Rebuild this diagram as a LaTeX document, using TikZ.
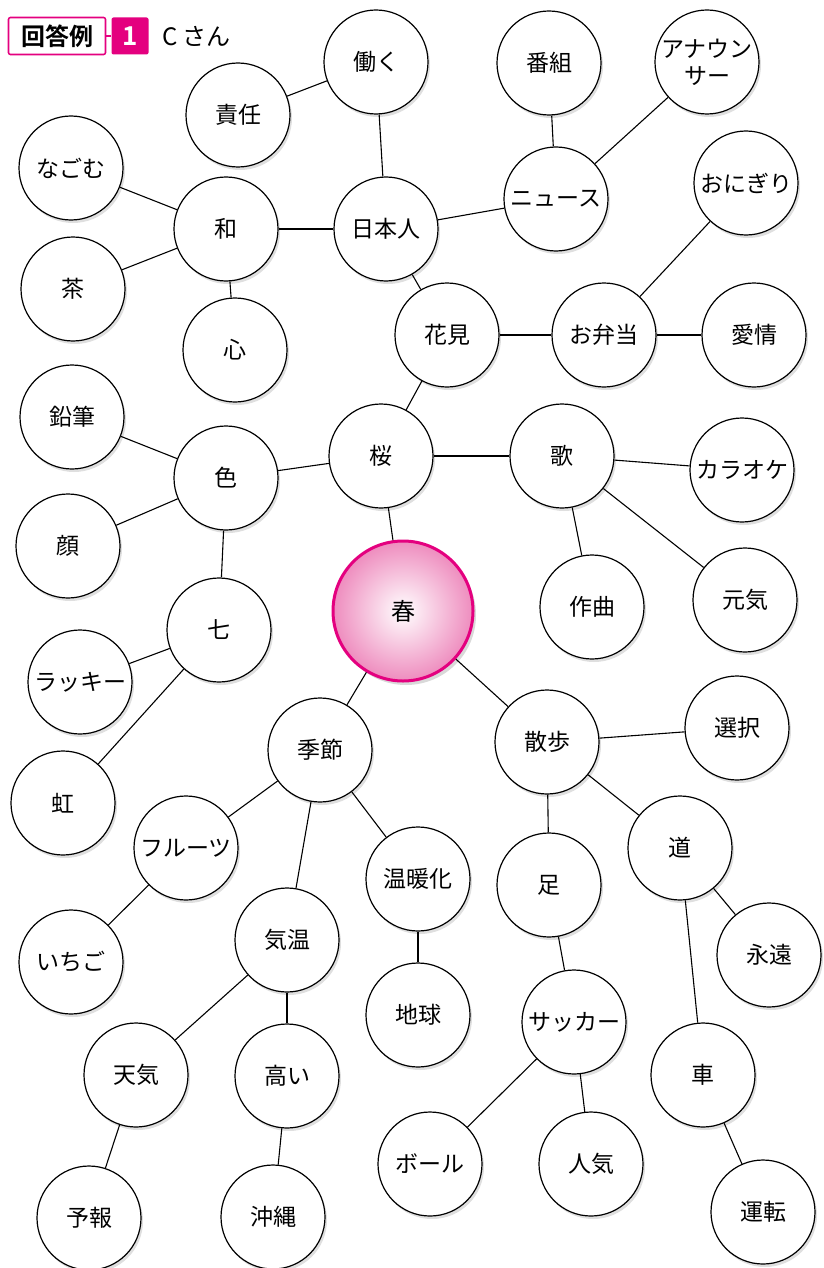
\documentclass[tikz,border=0pt]{standalone}
\usepackage{fontspec}
\setmainfont{Noto Sans CJK JP}
\newfontfamily\jpbold{Noto Sans CJK JP Bold}
\usetikzlibrary{shadows}
\definecolor{rosa}{RGB}{228,0,127}
\definecolor{rosalight}{RGB}{238,140,190}
\tikzset{
  word/.style={circle, draw, fill=white, line width=1.2pt, minimum size=104pt, inner sep=0pt,
    align=center, font=\fontsize{23}{27}\selectfont,
    drop shadow={opacity=0.25, shadow xshift=2pt, shadow yshift=-3pt}},
  link/.style={line width=1.1pt}
}
\begin{document}
\begin{tikzpicture}[x=1pt,y=-1pt]
		\useasboundingbox (0,0) rectangle (823,1268);
		% header
		\node[draw=rosa, line width=1.6pt, rounded corners=2pt, minimum width=97pt, minimum height=37pt,
		  inner sep=0pt, font=\jpbold\fontsize{24}{26}\selectfont] (kaito) at (57,36) {回答例};
		\node[fill=rosa, rounded corners=2pt, minimum width=37pt, minimum height=37pt, inner sep=0pt,
		  text=white, font=\jpbold\fontsize{26}{28}\selectfont] (num) at (130,36) {1};
		\draw[rosa, line width=1.6pt] (kaito) -- (num);
		\node[anchor=west, inner sep=0pt, font=\fontsize{24}{28}\selectfont] (san) at (162,36) {C さん};
		
		% center
		\node[circle, draw=rosa, line width=3pt, minimum size=140pt, inner sep=0pt,
		  inner color=white, outer color=rosalight, font=\fontsize{24}{28}\selectfont,
		  drop shadow={opacity=0.3, shadow xshift=3pt, shadow yshift=-4pt}] (haru) at (403,611) {春};
		
		% words
		\node[word] (hataraku) at (376,62) {働く};
		\node[word] (sekinin) at (238,115) {責任};
		\node[word] (bangumi) at (549,63) {番組};
		\node[word] (announcer) at (707,62) {アナウン\\サー};
		\node[word] (nagomu) at (71,168) {なごむ};
		\node[word] (wa) at (226,229) {和};
		\node[word] (nihonjin) at (386,229) {日本人};
		\node[word] (news) at (556,199) {ニュース};
		\node[word] (onigiri) at (746,183) {おにぎり};
		\node[word] (cha) at (73,289) {茶};
		\node[word] (kokoro) at (235,350) {心};
		\node[word] (hanami) at (447,335) {花見};
		\node[word] (obento) at (604,335) {お弁当};
		\node[word] (aijo) at (754,335) {愛情};
		\node[word] (enpitsu) at (72,417) {鉛筆};
		\node[word] (iro) at (226,478) {色};
		\node[word] (sakura) at (381,456) {桜};
		\node[word] (uta) at (562,456) {歌};
		\node[word] (karaoke) at (742,470) {カラオケ};
		\node[word] (kao) at (68,546) {顔};
		\node[word] (sakkyoku) at (592,607) {作曲};
		\node[word] (genki) at (745,600) {元気};
		\node[word] (nana) at (219,630) {七};
		\node[word] (lucky) at (80,682) {ラッキー};
		\node[word] (kisetsu) at (320,750) {季節};
		\node[word] (sanpo) at (547,742) {散歩};
		\node[word] (sentaku) at (737,728) {選択};
		\node[word] (niji) at (63,803) {虹};
		\node[word] (fruits) at (186,848) {フルーツ};
		\node[word] (michi) at (680,848) {道};
		\node[word] (ondanka) at (418,879) {温暖化};
		\node[word] (ashi) at (549,885) {足};
		\node[word] (ichigo) at (71,962) {いちご};
		\node[word] (kion) at (287,940) {気温};
		\node[word] (eien) at (769,955) {永遠};
		\node[word] (chikyu) at (418,1015) {地球};
		\node[word] (soccer) at (574,1022) {サッカー};
		\node[word] (tenki) at (136,1075) {天気};
		\node[word] (takai) at (287,1076) {高い};
		\node[word] (kuruma) at (703,1075) {車};
		\node[word] (ball) at (430,1164) {ボール};
		\node[word] (ninki) at (591,1164) {人気};
		\node[word] (yoho) at (89,1218) {予報};
		\node[word] (okinawa) at (273,1217) {沖縄};
		\node[word] (unten) at (763,1212) {運転};
		
		% links
		\foreach \a/\b in {sekinin/hataraku, hataraku/nihonjin, bangumi/news, announcer/news,
		  nagomu/wa, cha/wa, wa/nihonjin, wa/kokoro, nihonjin/news, nihonjin/hanami,
		  hanami/obento, onigiri/obento, obento/aijo, hanami/sakura,
		  enpitsu/iro, kao/iro, iro/sakura, iro/nana, sakura/uta, uta/karaoke,
		  uta/sakkyoku, uta/genki, sakura/haru, nana/lucky, nana/niji,
		  haru/kisetsu, haru/sanpo, sanpo/sentaku, sanpo/ashi, sanpo/michi,
		  kisetsu/fruits, kisetsu/kion, kisetsu/ondanka, fruits/ichigo, ondanka/chikyu,
		  kion/tenki, kion/takai, tenki/yoho, takai/okinawa, ashi/soccer,
		  soccer/ball, soccer/ninki, michi/eien, michi/kuruma, kuruma/unten}
		  \draw[link] (\a) -- (\b);
		
		\end{tikzpicture}
\end{document}
